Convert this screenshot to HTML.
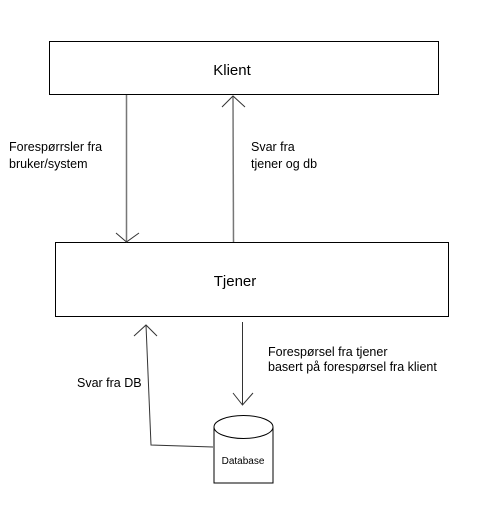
<!DOCTYPE html>
<html><head><meta charset="utf-8"><style>
html,body{margin:0;padding:0;background:#fff;}
svg{display:block;}
text{font-family:"Liberation Sans",sans-serif;fill:#000;}
</style></head><body>
<svg width="490" height="526" viewBox="0 0 490 526" xmlns="http://www.w3.org/2000/svg">
<rect x="0" y="0" width="490" height="526" fill="#fff"/>
<rect x="49.5" y="41.5" width="389" height="53" fill="#fff" stroke="#000" stroke-width="1"/>
<text x="232" y="75" font-size="15" text-anchor="middle">Klient</text>
<rect x="55.5" y="242.5" width="393" height="74" fill="#fff" stroke="#000" stroke-width="1"/>
<text x="235" y="286" font-size="15" text-anchor="middle">Tjener</text>
<g stroke="#777" stroke-width="1.5" fill="none">
<line x1="126.5" y1="95" x2="126.5" y2="242"/>
<polyline points="116,233 126.5,242 139,233" stroke="#333" stroke-width="1"/>
<line x1="233.5" y1="242" x2="233" y2="96"/>
<polyline points="222,107 233,96 245,107" stroke="#333" stroke-width="1"/>
</g>
<g stroke="#333" stroke-width="1" fill="none">
<line x1="242.5" y1="322" x2="242.5" y2="405"/>
<polyline points="233,393 242.5,405 253,393"/>
<polyline points="146,325 151,445 213,447"/>
<polyline points="134,336 146,325 157,336"/>
</g>
<g stroke="#000" stroke-width="1" fill="#fff">
<path d="M214,427 L214,483 L273,483 L273,427"/>
<ellipse cx="243.5" cy="427" rx="29.5" ry="11.5"/>
</g>
<text x="243" y="464" font-size="10" text-anchor="middle">Database</text>
<g font-size="12.5">
<text x="9" y="151">Forespørrsler fra</text>
<text x="9" y="168">bruker/system</text>
<text x="251" y="151">Svar fra</text>
<text x="251" y="168">tjener og db</text>
<text x="268" y="356">Forespørsel fra tjener</text>
<text x="268" y="371">basert på forespørsel fra klient</text>
<text x="77" y="387">Svar fra DB</text>
</g>
</svg>
</body></html>
